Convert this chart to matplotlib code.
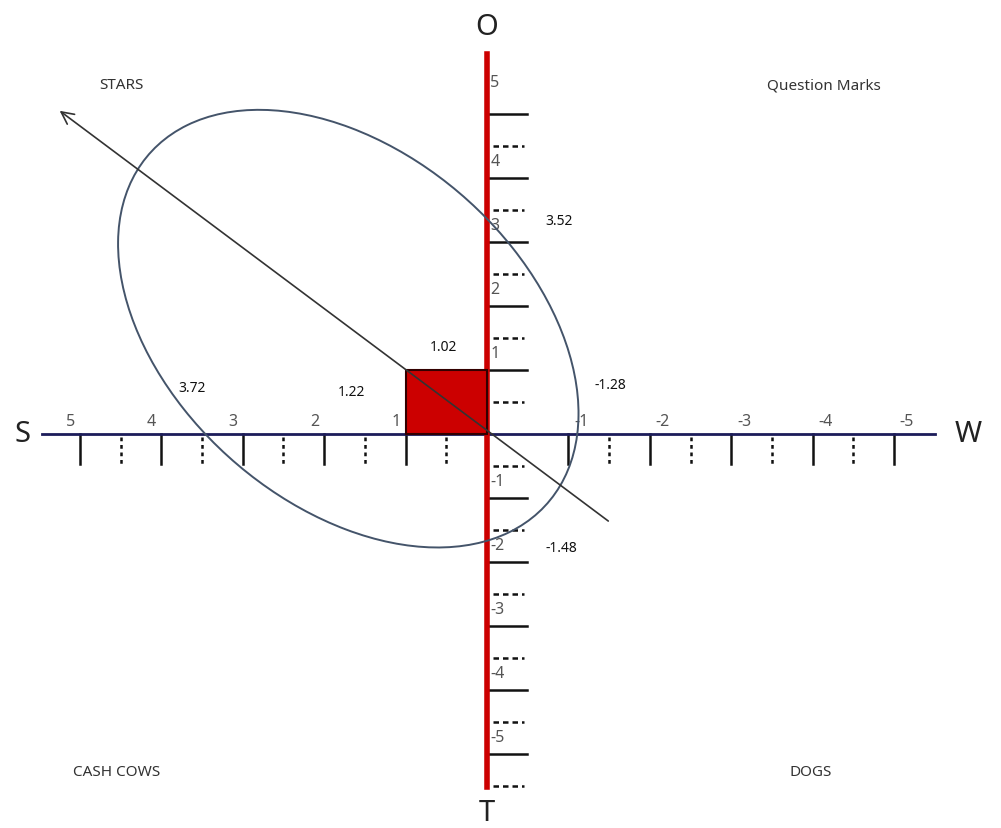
import matplotlib.pyplot as plt
from matplotlib.patches import Ellipse, Rectangle

plt.rcParams['font.family'] = ['Noto Sans', 'DejaVu Sans']

# horizontal axis: S (positive, left) .. W (negative, right)
sw_ticks = [5, 4, 3, 2, 1, -1, -2, -3, -4, -5]
sw_half = [4.5, 3.5, 2.5, 1.5, 0.5, -1.5, -2.5, -3.5, -4.5]
# vertical axis: O (positive, top) .. T (negative, bottom)
ot_ticks = [5, 4, 3, 2, 1, -1, -2, -3, -4, -5]
ot_half = [4.5, 3.5, 2.5, 1.5, 0.5, -0.5, -1.5, -2.5, -3.5, -4.5, -5.5]

# strategy square and direction vector
square_sw = 1.0
square_ot = 1.0
vector_start = (-1.49, -1.36)
vector_end = (5.25, 5.05)

# ellipse fitted to the drawing
ell_center = (1.704, 1.646)
ell_width = 7.49
ell_height = 4.76
ell_angle = 58.1

value_labels = ['3.52', '1.02', '1.22', '3.72', '-1.28', '-1.48']
value_pos = [(-0.88, 3.33), (0.53, 1.36), (1.66, 0.66),
             (3.62, 0.73), (-1.52, 0.78), (-0.91, -1.77)]

quadrants = ['STARS', 'Question Marks', 'CASH COWS', 'DOGS']
quad_pos = [(4.49, 5.46), (-4.14, 5.46), (4.55, -5.27), (-3.98, -5.27)]

fig = plt.figure(figsize=(10.01, 8.29), dpi=100)
ax = fig.add_axes([0, 0, 1, 1])
ax.set_xlim(487 / 81.4, -514 / 81.4)
ax.set_ylim(-394 / 64, 435 / 64)
ax.axis('off')

navy = '#1c1c5a'
red = '#cc0000'
tick_c = '#111111'
lab_c = '#555555'

# horizontal axis and ticks
ax.plot([5.47, -5.5], [0, 0], color=navy, lw=2, zorder=3)
for v in sw_ticks:
    ax.plot([v, v], [0, -0.47], color=tick_c, lw=1.8, zorder=2)
    dx = 0.12 if v > 0 else -0.16
    ax.text(v + dx, 0.08, str(v), ha='center', va='bottom',
            fontsize=11.5, color=lab_c)
for v in sw_half:
    ax.plot([v, v], [-0.05, -0.47], color=tick_c, lw=1.8,
            ls=(0, (1.5, 1.5)), zorder=2)

# vertical axis and ticks
ax.plot([0, 0], [5.94, -5.52], color=red, lw=4, zorder=4)
for v in ot_ticks:
    ax.plot([0, -0.49], [v, v], color=tick_c, lw=1.8, zorder=2)
    ty = 5.5 if v == 5 else v + 0.27
    ax.text(-0.04, ty, str(v), ha='left', va='center',
            fontsize=11.5, color=lab_c, zorder=5)
for v in ot_half:
    ax.plot([-0.07, -0.45], [v, v], color=tick_c, lw=1.8,
            ls=(0, (2.2, 1.6)), zorder=2)

# strategy square
ax.add_patch(Rectangle((0, 0), square_sw, square_ot, facecolor=red,
                       edgecolor='#330000', lw=1.5, zorder=5))

# ellipse
ax.add_patch(Ellipse(ell_center, ell_width, ell_height, angle=ell_angle,
                     fill=False, edgecolor='#44546a', lw=1.4, zorder=6))

# direction vector
ax.annotate('', xy=vector_end, xytext=vector_start,
            arrowprops=dict(arrowstyle='->', color='#333333', lw=1.2,
                            mutation_scale=22, shrinkA=0, shrinkB=0),
            zorder=7)

for t, (x, y) in zip(value_labels, value_pos):
    ax.text(x, y, t, ha='center', va='center', fontsize=10,
            fontweight='semibold', color='#111111', zorder=8)

for t, (x, y) in zip(quadrants, quad_pos):
    ax.text(x, y, t, ha='center', va='center', fontsize=11,
            color='#333333')

# axis end letters
ax.text(0, 6.37, 'O', ha='center', va='center', fontsize=21, color='#222222')
ax.text(0, -5.91, 'T', ha='center', va='center', fontsize=21, color='#222222')
ax.text(5.71, 0, 'S', ha='center', va='center', fontsize=21, color='#222222')
ax.text(-5.91, 0, 'W', ha='center', va='center', fontsize=21, color='#222222')

fig.savefig('out.png', dpi=100)
